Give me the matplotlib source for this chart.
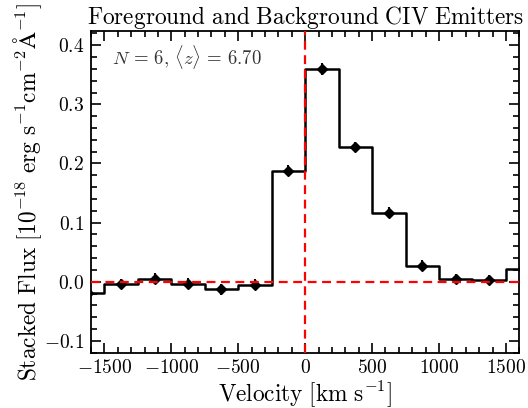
import numpy as np
import matplotlib
matplotlib.use("Agg")
import matplotlib.pyplot as plt
from matplotlib.ticker import MultipleLocator, FuncFormatter

plt.rcParams['mathtext.fontset'] = 'cm'
plt.rcParams['font.family'] = ['DejaVu Serif']

velocity = [-1625, -1375, -1125, -875, -625, -375, -125, 125, 375, 625, 875, 1125, 1375, 1625]
flux = [-0.019, -0.004, 0.005, -0.003, -0.013, -0.005, 0.188, 0.360, 0.228, 0.117, 0.027, 0.0045, 0.003, 0.021]
flux_err = [0.009, 0.009, 0.009, 0.009, 0.009, 0.009, 0.009, 0.010, 0.009, 0.009, 0.009, 0.009, 0.009, 0.009]

title = r'$\mathrm{Foreground\ and\ Background\ CIV\ Emitters}$'
xlabel = r'$\mathrm{Velocity\ [km\ s^{-1}]}$'
ylabel = r'$\mathrm{Stacked\ Flux\ [10^{-18}\ erg\ s^{-1}cm^{-2}\AA^{-1}]}$'
annot = r'$N\,=\,6,\,\langle z\rangle\,=\,6.70$'

fig = plt.figure(figsize=(5.28, 4.08), dpi=100)
ax = fig.add_axes([0.1723, 0.134, 0.8112, 0.790])

ax.step(velocity, flux, where='mid', color='black', lw=1.8, zorder=3)
ax.errorbar(velocity, flux, yerr=flux_err, fmt='D', color='black', ms=5.5, elinewidth=1.5, capsize=0, zorder=4)
ax.axhline(0, color='red', ls='--', lw=1.6, dashes=(4, 2.5), zorder=5)
ax.axvline(0, color='red', ls='--', lw=1.6, dashes=(4, 2.5), zorder=5)

ax.set_xlim(-1600, 1600)
ax.set_ylim(-0.121, 0.424)

ax.xaxis.set_major_locator(MultipleLocator(500))
ax.xaxis.set_minor_locator(MultipleLocator(100))
ax.yaxis.set_major_locator(MultipleLocator(0.1))
ax.yaxis.set_minor_locator(MultipleLocator(0.02))
ax.xaxis.set_major_formatter(FuncFormatter(lambda v, p: r'$%d$' % int(round(v))))
ax.yaxis.set_major_formatter(FuncFormatter(lambda v, p: r'$%.1f$' % (0.0 if abs(v) < 1e-9 else v)))

ax.tick_params(which='both', direction='in', top=True, right=True, labelsize=14, width=1.2, pad=5)
ax.tick_params(axis='x', which='both', pad=4)
ax.tick_params(which='major', length=7)
ax.tick_params(which='minor', length=4)
for s in ax.spines.values():
    s.set_linewidth(1.3)

ax.set_title(title, fontsize=16.8, pad=4)
ax.set_xlabel(xlabel, fontsize=16.8, labelpad=1)
ax.set_ylabel(ylabel, fontsize=16.8, labelpad=0)
ax.text(0.05, 0.92, annot, transform=ax.transAxes, fontsize=13.5, color='#333333', va='center', ha='left')

fig.savefig('out.png', dpi=100)
